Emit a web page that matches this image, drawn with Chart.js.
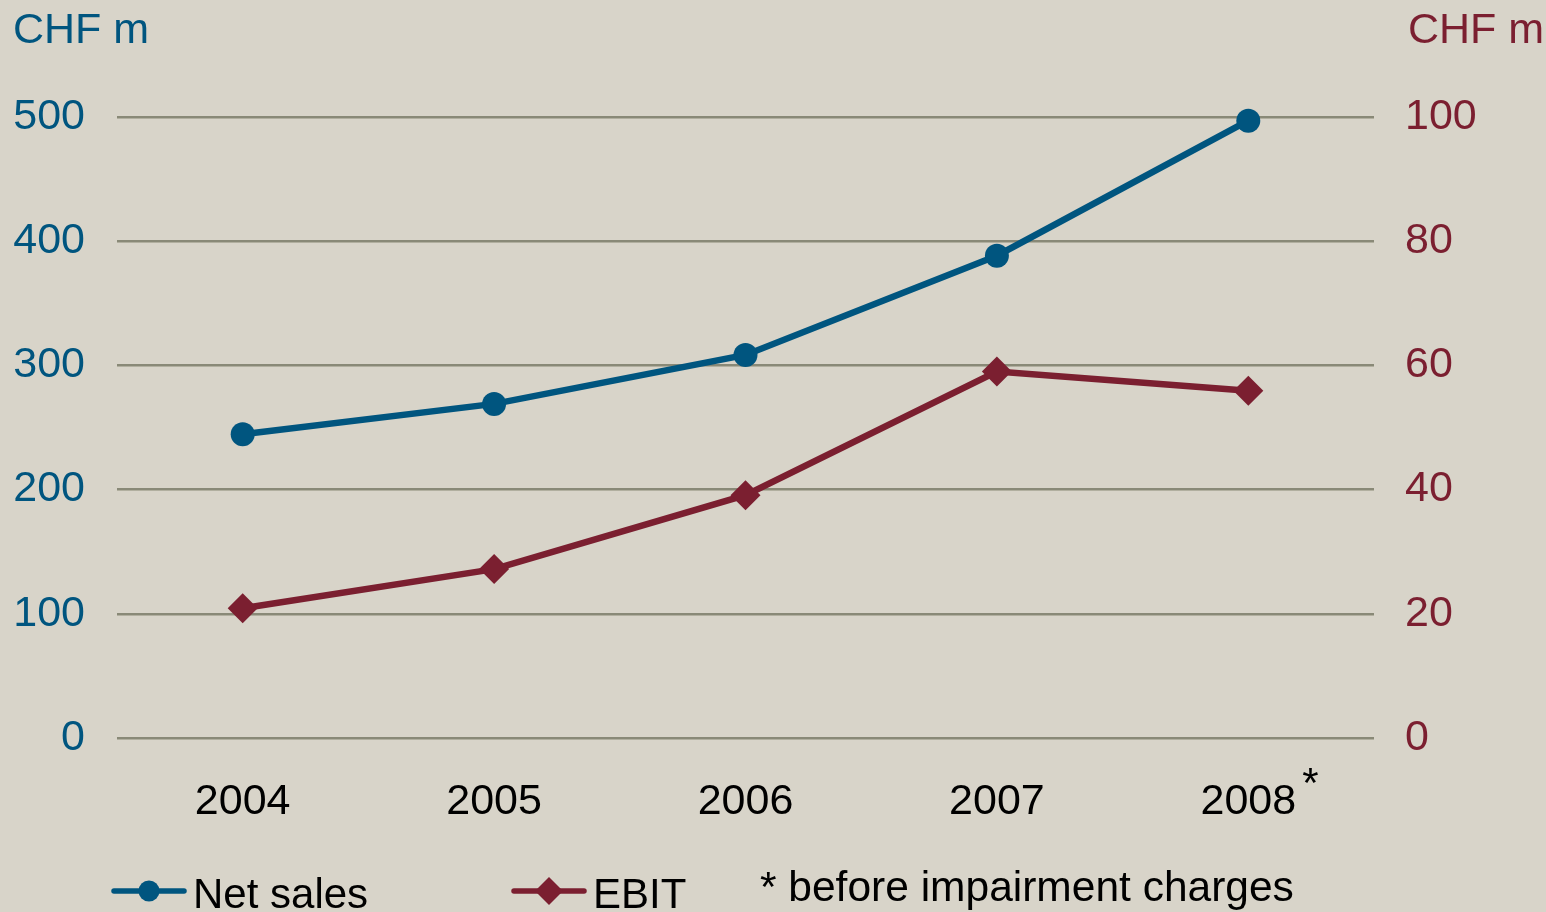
<!DOCTYPE html>
<html>
<head>
<meta charset="utf-8">
<script src="https://cdn.jsdelivr.net/npm/chart.js@4/dist/chart.umd.min.js"></script>
<style>
  html, body { margin: 0; padding: 0; background: #d8d4c9; }
  #wrap { width: 1546px; height: 912px; position: relative; }
</style>
</head>
<body>
<div id="wrap"><canvas id="c" width="1546" height="912"></canvas></div>
<script>
// Annual figures, CHF millions
const years = ['2004', '2005', '2006', '2007', '2008'];
const netSales = [244.5, 269, 308.4, 388.3, 497];
const ebit = [20.9, 27.2, 39.1, 59.0, 55.9];
const leftTicks = [0, 100, 200, 300, 400, 500];
const rightTicks = [0, 20, 40, 60, 80, 100];

const BLUE = '#00557f';
const RED = '#7b1f30';
const GRID = '#898977';
const FONT = '"Liberation Sans", Arial, sans-serif';

// Units, legend and footnote drawn around the plot
const decorations = {
  id: 'decorations',
  afterDraw(chart) {
    const ctx = chart.ctx;
    const x = chart.scales.x;
    ctx.save();
    ctx.font = '43px ' + FONT;
    ctx.textBaseline = 'alphabetic';
    ctx.textAlign = 'left';
    ctx.fillStyle = BLUE;
    ctx.fillText('CHF m', 13, 43);
    ctx.fillStyle = RED;
    ctx.fillText('CHF m', 1408, 43);

    // footnote marker on the last year
    const lastPx = x.getPixelForValue(years.length - 1);
    ctx.font = '42px ' + FONT;
    ctx.fillStyle = '#000';
    ctx.fillText('*', lastPx + 54, 797);

    // legend
    const drawKey = (x0, color, style, label) => {
      ctx.strokeStyle = color;
      ctx.lineWidth = 5.5;
      ctx.lineCap = 'round';
      ctx.beginPath();
      ctx.moveTo(x0, 891);
      ctx.lineTo(x0 + 70, 891);
      ctx.stroke();
      ctx.fillStyle = color;
      ctx.beginPath();
      const cx = x0 + 35;
      if (style === 'circle') {
        ctx.arc(cx, 891, 10.5, 0, Math.PI * 2);
      } else {
        ctx.moveTo(cx, 877); ctx.lineTo(cx + 14, 891);
        ctx.lineTo(cx, 905); ctx.lineTo(cx - 14, 891);
        ctx.closePath();
      }
      ctx.fill();
      ctx.fillStyle = '#000';
      ctx.fillText(label, x0 + 79, 908);
    };
    drawKey(114, BLUE, 'circle', 'Net sales');
    drawKey(514, RED, 'diamond', 'EBIT');

    ctx.fillStyle = '#000';
    ctx.font = '42.5px ' + FONT;
    ctx.fillText('* before impairment charges', 760, 901);
    ctx.restore();
  }
};

new Chart(document.getElementById('c'), {
  type: 'line',
  data: {
    labels: years,
    datasets: [
      {
        label: 'Net sales',
        data: netSales,
        yAxisID: 'y',
        borderColor: BLUE,
        backgroundColor: BLUE,
        borderWidth: 6.5,
        pointStyle: 'circle',
        pointRadius: 12,
        pointBorderWidth: 0,
        tension: 0,
        clip: false
      },
      {
        label: 'EBIT',
        data: ebit,
        yAxisID: 'y1',
        borderColor: RED,
        backgroundColor: RED,
        borderWidth: 6.5,
        pointStyle: 'rectRot',
        pointRadius: 15,
        pointBorderWidth: 0,
        tension: 0,
        clip: false
      }
    ]
  },
  options: {
    responsive: false,
    animation: false,
    devicePixelRatio: 1,
    layout: { padding: { top: 117, left: 0, right: 0, bottom: 0 } },
    plugins: {
      legend: { display: false },
      tooltip: { enabled: false }
    },
    scales: {
      x: {
        offset: true,
        grid: { display: false, drawTicks: false },
        border: { display: false },
        ticks: { color: '#000', font: { family: FONT, size: 43 }, padding: 38, maxRotation: 0 },
        afterFit(s) { s.height = 174; }
      },
      y: {
        position: 'left',
        min: 0, max: 500,
        afterBuildTicks(s) { s.ticks = leftTicks.map(v => ({ value: v })); },
        grid: { color: GRID, lineWidth: 2.5, drawTicks: false },
        border: { display: false },
        ticks: { color: BLUE, font: { family: FONT, size: 43 }, padding: 32 },
        afterFit(s) { s.width = 117; }
      },
      y1: {
        position: 'right',
        min: 0, max: 100,
        afterBuildTicks(s) { s.ticks = rightTicks.map(v => ({ value: v })); },
        grid: { display: false, drawTicks: false },
        border: { display: false },
        ticks: { color: RED, font: { family: FONT, size: 43 }, padding: 31 },
        afterFit(s) { s.width = 172; }
      }
    }
  },
  plugins: [decorations]
});
</script>
</body>
</html>
